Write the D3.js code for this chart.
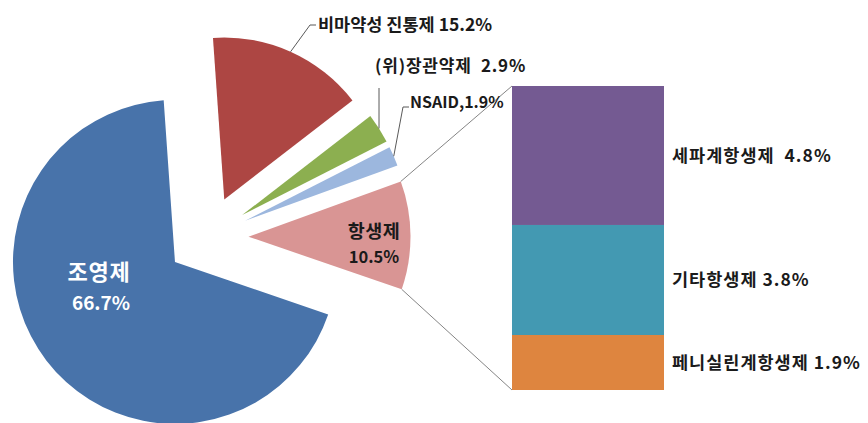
<!DOCTYPE html>
<html>
<head>
<meta charset="utf-8">
<script src="https://cdn.jsdelivr.net/npm/d3@7"></script>
<style>
  html, body { margin: 0; padding: 0; background: #fff; }
  svg { display: block; }
  text { font-family: "Noto Sans CJK KR", "Noto Sans", sans-serif; font-weight: bold; }
</style>
</head>
<body>
<svg id="chart" width="868" height="423"></svg>
<script>
// ---- data ----
const pieCategories = ["비마약성 진통제", "(위)장관약제", "NSAID", "항생제", "조영제"];
const pieValues = [15.2, 2.9, 1.9, 10.5, 66.7];
const pieColors = ["#AD4643", "#8CAF50", "#9CB7DE", "#D99594", "#4873AA"];

const barCategories = ["세파계항생제", "기타항생제", "페니실린계항생제"];
const barValues = [4.8, 3.8, 1.9];
const barColors = ["#745A92", "#4399B2", "#DE853F"];

// ---- layout ----
const svg = d3.select("#chart");
const cx = 207.5, cy = 237, R = 162, explode = 41;
const start = -4 * Math.PI / 180;

const pie = d3.pie().sort(null).value(d => d).startAngle(start).endAngle(start + 2 * Math.PI);
const arcs = pie(pieValues);
const arc = d3.arc().innerRadius(0).outerRadius(R);

function offset(d) {
  const m = (d.startAngle + d.endAngle) / 2;
  return [cx + explode * Math.sin(m), cy - explode * Math.cos(m)];
}
function pointAt(d, a, r) {
  const o = offset(d);
  return [o[0] + r * Math.sin(a), o[1] - r * Math.cos(a)];
}

const g = svg.append("g");
g.selectAll("path.slice").data(arcs).enter().append("path")
  .attr("class", "slice")
  .attr("d", arc)
  .attr("fill", (d, i) => pieColors[i])
  .attr("transform", d => `translate(${offset(d)[0]},${offset(d)[1]})`);

// ---- bar of pie ----
const barX0 = 512, barX1 = 664, barTop = 86, barBottom = 390;
const barTotal = d3.sum(barValues);
const y = d3.scaleLinear().domain([0, barTotal]).range([barBottom, barTop]);
const stacked = [];
let acc = 0;
for (let i = barValues.length - 1; i >= 0; i--) {
  stacked[i] = { y0: acc, y1: acc + barValues[i] };
  acc += barValues[i];
}
svg.selectAll("rect.bar").data(barValues).enter().append("rect")
  .attr("class", "bar")
  .attr("x", barX0)
  .attr("width", barX1 - barX0)
  .attr("y", (d, i) => y(stacked[i].y1))
  .attr("height", (d, i) => y(stacked[i].y0) - y(stacked[i].y1))
  .attr("fill", (d, i) => barColors[i]);

// connector lines from aggregated slice (항생제) to bar
const agg = arcs[3];
const pTop = pointAt(agg, agg.startAngle, R);
const pBot = pointAt(agg, agg.endAngle, R);
svg.append("line").attr("x1", pTop[0]).attr("y1", pTop[1]).attr("x2", barX0).attr("y2", y(barTotal))
  .attr("stroke", "#858585").attr("stroke-width", 1);
svg.append("line").attr("x1", pBot[0]).attr("y1", pBot[1]).attr("x2", barX0).attr("y2", y(0))
  .attr("stroke", "#858585").attr("stroke-width", 1);

// ---- leader lines ----
function mid(d) { return (d.startAngle + d.endAngle) / 2; }
const leaders = [
  { i: 0, pts: [[310, 25], [316, 25]] },
  { i: 1, pts: [[379, 88]] },
  { i: 2, pts: [[403, 107], [409, 107]] }
];
leaders.forEach(L => {
  const d = arcs[L.i];
  const p0 = pointAt(d, mid(d), R);
  svg.append("path")
    .attr("d", d3.line()([p0].concat(L.pts)))
    .attr("fill", "none").attr("stroke", "#595959").attr("stroke-width", 1);
});

// ---- labels ----
function fmt(v) { return v.toFixed(1) + "%"; }
svg.append("text").attr("x", 318).attr("y", 31).attr("font-size", 17.5).attr("fill", "#1a1a1a")
  .text(pieCategories[0] + " " + fmt(pieValues[0]));
svg.append("text").attr("x", 375).attr("y", 72).attr("font-size", 17).attr("letter-spacing", 0.8).attr("fill", "#1a1a1a")
  .attr("xml:space", "preserve")
  .text(pieCategories[1] + "  " + fmt(pieValues[1]));
svg.append("text").attr("x", 410).attr("y", 108).attr("font-size", 16).attr("fill", "#1a1a1a")
  .text(pieCategories[2] + "," + fmt(pieValues[2]));

// inside labels
svg.append("text").attr("x", 374).attr("y", 238).attr("font-size", 18.5).attr("letter-spacing", 0.5).attr("text-anchor", "middle").attr("fill", "#1a1a1a")
  .text(pieCategories[3]);
svg.append("text").attr("x", 374).attr("y", 263).attr("font-size", 16.5).attr("text-anchor", "middle").attr("fill", "#1a1a1a")
  .text(fmt(pieValues[3]));
svg.append("text").attr("x", 99).attr("y", 280).attr("font-size", 22).attr("letter-spacing", 0.8).attr("text-anchor", "middle").attr("fill", "#fff")
  .text(pieCategories[4]);
svg.append("text").attr("x", 101).attr("y", 310).attr("font-size", 19).attr("text-anchor", "middle").attr("fill", "#fff")
  .text(fmt(pieValues[4]));

// bar labels
const barSep = ["  ", " ", " "];
svg.selectAll("text.blab").data(barValues).enter().append("text")
  .attr("class", "blab")
  .attr("x", 672)
  .attr("y", (d, i) => (y(stacked[i].y0) + y(stacked[i].y1)) / 2)
  .attr("dy", "0.35em")
  .attr("font-size", 17.5)
  .attr("letter-spacing", 1)
  .attr("fill", "#1a1a1a")
  .attr("xml:space", "preserve")
  .text((d, i) => barCategories[i] + barSep[i] + fmt(d));
</script>
</body>
</html>
